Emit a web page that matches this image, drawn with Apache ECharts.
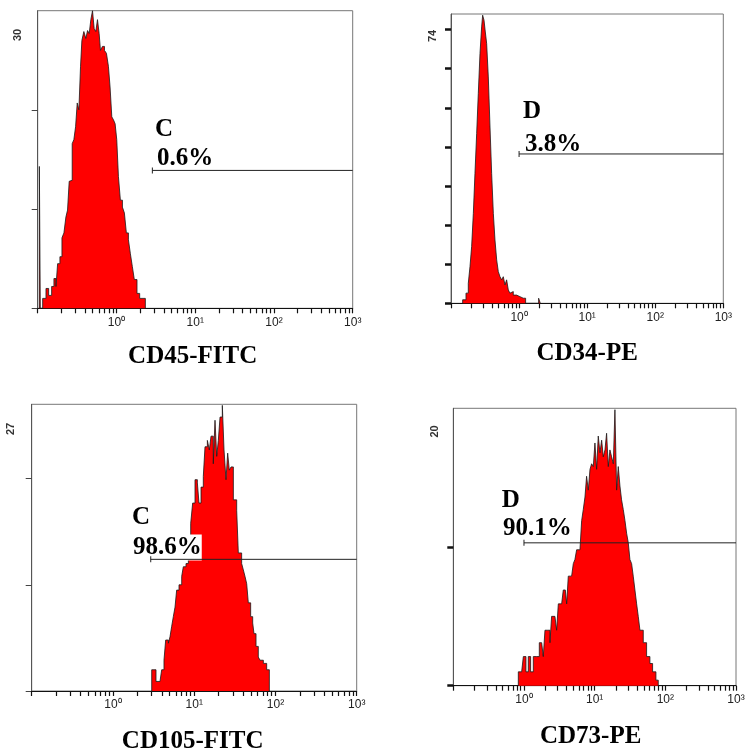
<!DOCTYPE html>
<html><head><meta charset="utf-8">
<script src="https://cdn.jsdelivr.net/npm/echarts@6/dist/echarts.min.js"></script>
<style>html,body{margin:0;padding:0;background:#fff}#c{width:753px;height:753px}</style>
</head><body><div id="c"></div>
<script>
// ---- data (x = log10 fluorescence channel, y = events count) ----
const cd45Log = [-0.979,-0.967,-0.937,-0.895,-0.861,-0.823,-0.794,-0.768,-0.747,-0.718,-0.692,-0.667,-0.642,-0.621,-0.600,-0.578,-0.562,-0.541,-0.519,-0.498,-0.477,-0.456,-0.439,-0.414,-0.389,-0.367,-0.346,-0.325,-0.304,-0.283,-0.262,-0.241,-0.220,-0.203,-0.178,-0.152,-0.127,-0.102,-0.081,-0.059,-0.038,-0.017,0.004,0.025,0.050,0.076,0.101,0.126,0.152,0.177,0.202,0.227,0.261,0.295,0.367];
const cd45Count = [14.3,0,1.0,2.0,1.3,2.2,3.0,2.2,4.5,5.2,7.1,7.6,9.2,9.9,12.8,12.9,16.6,17.0,18.3,20.7,20.0,24.4,27.0,27.9,27.2,28.0,27.7,29.1,30.0,28.2,27.9,29.1,27.7,26.0,26.4,26.0,25.7,24.4,22.3,19.3,19.0,18.6,17.0,13.3,10.9,10.2,9.6,7.6,6.9,5.5,4.2,2.9,1.5,1.0,0];

const cd34Log = [-0.829,-0.780,-0.746,-0.721,-0.697,-0.672,-0.648,-0.623,-0.599,-0.574,-0.550,-0.535,-0.515,-0.496,-0.476,-0.452,-0.427,-0.403,-0.378,-0.354,-0.329,-0.305,-0.280,-0.256,-0.232,-0.207,-0.183,-0.158,-0.134,-0.109,-0.085,-0.036,0.013,0.062,0.096,0.287,0.312];
const cd34Count = [0.9,2.6,5.1,9.4,14.5,23.0,33.2,43.4,53.7,63.9,70.7,73.7,72.4,69.4,66.4,57.9,45.1,33.2,23.0,16.2,11.1,8.1,6.8,6.0,6.8,4.7,6.0,3.4,2.6,3.0,2.1,1.7,1.3,1.3,0,1.3,0];

const cd105Log = [0.477,0.505,0.530,0.579,0.600,0.628,0.649,0.682,0.702,0.723,0.743,0.764,0.784,0.813,0.846,0.866,0.899,0.928,0.957,0.981,1.010,1.039,1.059,1.084,1.112,1.133,1.162,1.186,1.207,1.235,1.256,1.277,1.297,1.318,1.346,1.367,1.391,1.412,1.432,1.453,1.482,1.502,1.523,1.543,1.564,1.584,1.605,1.625,1.646,1.666,1.695,1.720,1.736,1.761,1.789,1.810,1.851,1.892,1.925];
const cd105Count = [2.0,2.0,0.9,0.9,2.0,2.9,4.8,4.5,5.1,6.1,7.0,7.9,9.5,10.0,10.8,11.7,12.0,14.5,15.8,17.7,19.9,19.6,17.7,19.2,20.2,23.0,23.6,22.7,24.0,21.4,25.5,22.1,23.6,25.8,26.9,22.7,19.9,22.4,20.8,21.1,18.0,18.0,17.0,13.0,13.0,12.0,11.4,10.8,10.1,8.3,7.0,6.4,5.4,4.2,3.2,2.9,2.6,2.0,0];

const cd73Log = [-0.080,-0.033,-0.009,0.028,0.061,0.094,0.132,0.179,0.217,0.250,0.273,0.297,0.330,0.368,0.391,0.438,0.462,0.486,0.533,0.556,0.585,0.604,0.627,0.674,0.698,0.721,0.745,0.792,0.816,0.839,0.863,0.886,0.910,0.934,0.957,0.981,1.004,1.028,1.051,1.075,1.099,1.122,1.146,1.169,1.193,1.216,1.240,1.264,1.287,1.311,1.334,1.358,1.381,1.405,1.429,1.452,1.476,1.499,1.523,1.546,1.570,1.594,1.617,1.641,1.688,1.735,1.782,1.820,1.867,1.900];
const cd73Count = [1.0,1.0,2.1,1.0,2.1,1.0,2.1,2.1,3.1,3.1,2.1,4.0,4.0,3.1,5.0,5.0,4.0,5.9,5.9,6.9,6.9,5.9,7.9,7.9,8.8,9.1,9.8,9.8,11.9,12.7,13.6,15.1,14.1,15.6,16.0,15.8,17.5,15.6,18.0,16.8,17.7,16.5,17.0,18.2,15.8,17.0,16.5,16.0,19.9,14.1,15.8,14.4,13.4,12.7,11.9,11.0,10.3,9.1,8.8,7.9,6.9,5.9,5.0,4.0,3.1,2.1,1.6,1.0,0.4,0];

const markerNames = ['CD45-FITC','CD34-PE','CD105-FITC','CD73-PE'];
const yMaxValues = [30, 74, 27, 20];
const gateLetters = ['C','D','C','D'];
const gatePercents = ['0.6%','3.8%','98.6%','90.1%'];
const gateStartLog = [0.456, 0.0, 0.465, 0.0];
const gateLevel = [13.9, 38.2, 12.4, 10.3];
const decadeExponents = [0, 1, 2, 3];
const logMin = -1, logMax = 3;

// ---- layout / styling ----
const logs = [cd45Log, cd34Log, cd105Log, cd73Log];
const counts = [cd45Count, cd34Count, cd105Count, cd73Count];
const grids = [
  {left: 37.7, top: 10.7, width: 315, height: 297.6},
  {left: 451, top: 14, width: 272.3, height: 289.3},
  {left: 31.7, top: 404.3, width: 325, height: 286.7},
  {left: 453.3, top: 408.3, width: 282.7, height: 277.4}
];
const nameGaps = [36, 38, 38, 38];
const namePads = [[0,5,0,0],[0,0,0,0],[0,3,0,0],[0,8,0,0]];
const yTickStyle = [
  {width: 1, color: '#444'}, {width: 2.5, color: '#111'},
  {width: 1, color: '#444'}, {width: 2.5, color: '#111'}
];
const textPos = [
  {letter: [155, 130], pct: [157, 159], ylab: [18, 35]},
  {letter: [523, 111.5], pct: [525, 145], ylab: [433, 36]},
  {letter: [132, 517.5], pct: [133, 547.5], ylab: [11, 429]},
  {letter: [501.7, 500.5], pct: [503, 529], ylab: [435, 431.5]}
];
const SERIF = "'Liberation Serif','Times New Roman',serif";
const SANS = "'Liberation Sans',Arial,sans-serif";
const sup = ['\u2070', '\u00b9', '\u00b2', '\u00b3'];

const minorTicks = [];
for (let d = logMin; d < logMax; d++) for (let k = 1; k <= 9; k++) minorTicks.push(d + Math.log10(k));
minorTicks.push(logMax);

const option = {
  animation: false,
  backgroundColor: '#fff',
  grid: [], xAxis: [], yAxis: [], series: [], graphic: []
};

for (let i = 0; i < 4; i++) {
  option.grid.push(Object.assign({show: true, borderColor: '#777', borderWidth: 1, containLabel: false, outerBoundsMode: 'none'}, grids[i]));
  option.xAxis.push({
    type: 'value', gridIndex: i, min: logMin, max: logMax, interval: 1,
    name: markerNames[i], nameLocation: 'middle', nameGap: nameGaps[i],
    nameTextStyle: {fontFamily: SERIF, fontWeight: 'bold', fontSize: 25, color: '#000', padding: namePads[i]},
    axisLine: {show: true, onZero: false, lineStyle: {color: '#111', width: 1}},
    axisTick: {show: true, inside: false, length: 5, customValues: minorTicks, lineStyle: {color: '#111', width: 1.2}},
    axisLabel: {show: true, customValues: decadeExponents, margin: 8, fontFamily: SANS, fontSize: 12, color: '#222',
      formatter: v => (v < 0 ? '' : '10' + sup[Math.round(v)])},
    splitLine: {show: false}
  });
  const yt = [];
  for (let v = 0; v <= yMaxValues[i] - 1; v += 10) yt.push(v);
  option.yAxis.push({
    type: 'value', gridIndex: i, min: 0, max: yMaxValues[i],
    axisLine: {show: true, onZero: false, lineStyle: {color: '#555', width: 1}},
    axisTick: {show: true, inside: false, length: 6, customValues: yt, lineStyle: yTickStyle[i]},
    axisLabel: {show: false},
    splitLine: {show: false}
  });
  const hist = [[logs[i][0], 0]];
  for (let j = 0; j < logs[i].length; j++) hist.push([logs[i][j], counts[i][j]]);
  option.series.push({
    type: 'line', xAxisIndex: i, yAxisIndex: i, step: 'end', data: hist,
    symbol: 'none', silent: true, z: 2,
    lineStyle: {color: '#1a1a1a', width: 0.8},
    areaStyle: {color: '#ff0000', opacity: 1}
  });
  option.series.push({
    type: 'line', xAxisIndex: i, yAxisIndex: i, silent: true, z: 4, showAllSymbol: true,
    data: [
      {value: [gateStartLog[i], gateLevel[i]], symbol: 'rect', symbolSize: [1, 6]},
      {value: [logMax, gateLevel[i]], symbol: 'none'}
    ],
    lineStyle: {color: '#222', width: 1}, itemStyle: {color: '#222'}
  });
  const p = textPos[i];
  option.graphic.push({
    type: 'text', x: p.letter[0], y: p.letter[1], z: 3,
    style: {text: gateLetters[i], fontFamily: SERIF, fontWeight: 'bold', fontSize: 25, fill: '#000', align: 'left', verticalAlign: 'middle'}
  });
  option.graphic.push({
    type: 'text', x: p.pct[0], y: p.pct[1], z: 3,
    style: {text: gatePercents[i], fontFamily: SERIF, fontWeight: 'bold', fontSize: 25, fill: '#000', align: 'left', verticalAlign: 'middle',
      backgroundColor: i === 2 ? '#fff' : 'transparent', padding: [1, 0, 0, 0]}
  });
  option.graphic.push({
    type: 'text', x: p.ylab[0], y: p.ylab[1], rotation: Math.PI / 2, z: 3,
    style: {text: String(yMaxValues[i]), fontFamily: SANS, fontWeight: 'bold', fontSize: 11, fill: '#333', align: 'center', verticalAlign: 'middle'}
  });
}

const chart = echarts.init(document.getElementById('c'), null, {renderer: 'canvas'});
chart.setOption(option);
</script>
</body></html>
